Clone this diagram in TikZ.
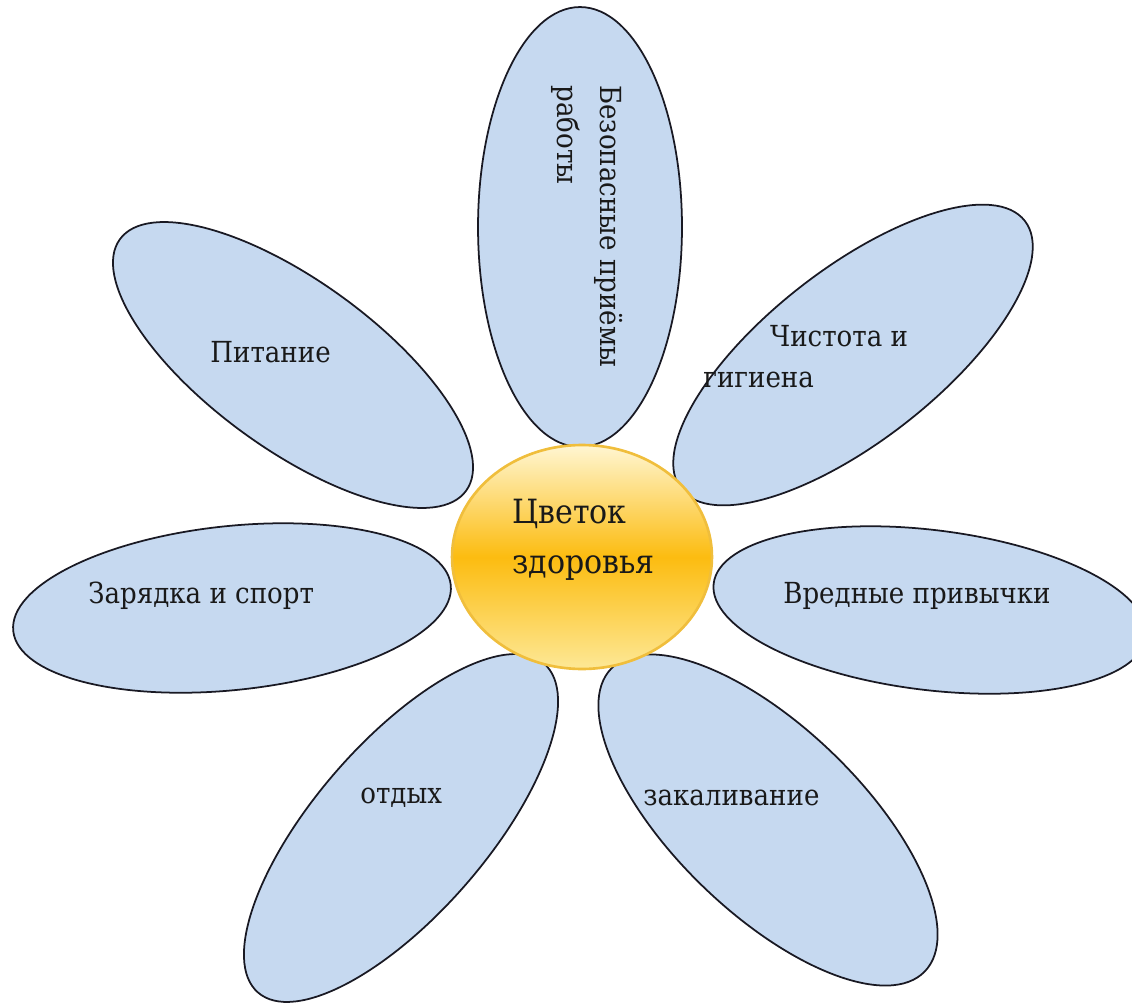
\documentclass[tikz,border=0pt]{standalone}
\usepackage{fontspec}
\setmainfont{DejaVu Serif}[FakeStretch=0.9]
\usetikzlibrary{shapes.geometric}
\definecolor{petalfill}{RGB}{198,217,240}
\definecolor{petaledge}{RGB}{25,25,35}
\definecolor{coreedge}{RGB}{240,190,60}
\definecolor{corepale}{RGB}{255,246,210}
\definecolor{corelight}{RGB}{253,232,150}
\definecolor{coredeep}{RGB}{252,188,16}

\begin{document}
\begin{tikzpicture}[x=0.02cm, y=-0.02cm,
		petal/.style={ellipse, draw=petaledge, fill=petalfill, line width=1pt, inner sep=0pt},
		petaltext/.style={anchor=base west, inner sep=0pt, text=black!90, font=\fontsize{16.5}{23}\selectfont}]
	\useasboundingbox (0,0) rectangle (1132,1004);
	\node (safety) [petal, rotate=90, minimum width=8.8cm, minimum height=4.08cm] at (580,227) {};
	\node (food) [petal, rotate=-36, minimum width=8.56cm, minimum height=3.36cm] at (293,365) {};
	\node (hygiene) [petal, rotate=38, minimum width=8.72cm, minimum height=3.44cm] at (853,355) {};
	\node (habits) [petal, rotate=-7, minimum width=8.72cm, minimum height=3.2cm] at (930,610) {};
	\node (sport) [petal, rotate=6, minimum width=8.8cm, minimum height=3.28cm] at (232,608) {};
	\node (rest) [petal, rotate=49, minimum width=8.72cm, minimum height=3.44cm] at (401,828) {};
	\node (hardening) [petal, rotate=-44, minimum width=8.72cm, minimum height=3.72cm] at (768,820) {};
	\node (core) [ellipse, draw=coreedge, line width=1.5pt, minimum width=5.2cm, minimum height=4.48cm,
		top color=corepale, bottom color=corelight, middle color=coredeep] at (582,557) {};

	\node (safetytext) [petaltext, rotate=-90, align=left, font=\fontsize{16.5}{25}\selectfont] at (557,85) {Безопасные приёмы\\работы};
	\node (foodtext) [petaltext] at (210,362) {Питание};
	\node (hygienetext) [petaltext, align=left] at (703,387) {\hspace*{38pt}Чистота и\\гигиена};
	\node (habitstext) [petaltext] at (783,603) {Вредные привычки};
	\node (sporttext) [petaltext] at (88,603) {Зарядка и спорт};
	\node (resttext) [petaltext] at (360,803) {отдых};
	\node (hardeningtext) [petaltext] at (643,805) {закаливание};
	\node (coretext) [petaltext, align=left, font=\fontsize{19}{28}\selectfont] at (512,573) {Цветок\\здоровья};
\end{tikzpicture}
\end{document}
